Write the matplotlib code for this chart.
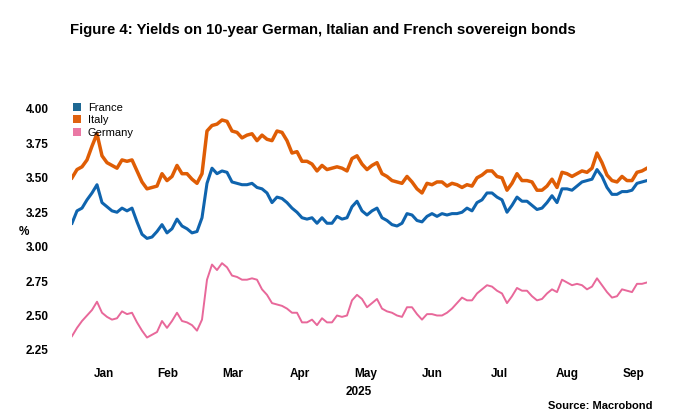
import matplotlib
matplotlib.use("Agg")
import matplotlib.pyplot as plt
from matplotlib.patches import Patch
import pandas as pd

plt.rcParams['font.family'] = ['Liberation Sans', 'DejaVu Sans']

# values, roughly every 2.3 days, 2 Jan - 22 Sep 2025
france = [3.17, 3.26, 3.28, 3.34, 3.39, 3.45, 3.32, 3.29, 3.26, 3.25, 3.28, 3.26,
          3.28, 3.18, 3.09, 3.06, 3.07, 3.11, 3.16, 3.10, 3.13, 3.20, 3.15,
          3.13, 3.10, 3.11, 3.21, 3.46, 3.57, 3.53, 3.55, 3.54, 3.47, 3.46, 3.45,
          3.45, 3.46, 3.43, 3.42, 3.39, 3.32, 3.36, 3.35, 3.32, 3.28, 3.25,
          3.21, 3.20, 3.21, 3.17, 3.21, 3.17, 3.17, 3.22, 3.20, 3.21, 3.29, 3.33,
          3.26, 3.23, 3.26, 3.28, 3.21, 3.19, 3.16, 3.15, 3.17, 3.24, 3.23,
          3.19, 3.18, 3.22, 3.24, 3.22, 3.24, 3.23, 3.24, 3.24, 3.25, 3.28, 3.26,
          3.32, 3.34, 3.39, 3.39, 3.36, 3.34, 3.25, 3.30, 3.36, 3.33, 3.33,
          3.30, 3.27, 3.28, 3.32, 3.37, 3.32, 3.42, 3.42, 3.41, 3.44, 3.47, 3.48,
          3.49, 3.56, 3.51, 3.43, 3.38, 3.38, 3.40, 3.40, 3.41, 3.46, 3.47, 3.48]

italy = [3.50, 3.56, 3.58, 3.63, 3.73, 3.82, 3.66, 3.61, 3.59, 3.57, 3.63, 3.62,
         3.63, 3.55, 3.47, 3.42, 3.43, 3.44, 3.53, 3.48, 3.51, 3.59, 3.53,
         3.53, 3.49, 3.46, 3.53, 3.84, 3.88, 3.89, 3.92, 3.91, 3.84, 3.83, 3.79,
         3.81, 3.82, 3.77, 3.81, 3.78, 3.77, 3.84, 3.83, 3.77, 3.68, 3.69,
         3.62, 3.62, 3.60, 3.55, 3.59, 3.56, 3.57, 3.58, 3.57, 3.55, 3.64, 3.66,
         3.60, 3.56, 3.59, 3.61, 3.53, 3.51, 3.48, 3.47, 3.46, 3.51, 3.47,
         3.42, 3.39, 3.46, 3.45, 3.47, 3.47, 3.44, 3.46, 3.45, 3.43, 3.45, 3.44,
         3.50, 3.52, 3.55, 3.55, 3.51, 3.50, 3.41, 3.46, 3.53, 3.48, 3.48,
         3.47, 3.41, 3.41, 3.44, 3.49, 3.43, 3.54, 3.53, 3.51, 3.53, 3.55, 3.54,
         3.57, 3.68, 3.61, 3.52, 3.48, 3.47, 3.51, 3.48, 3.48, 3.54, 3.55, 3.57]

germany = [2.35, 2.41, 2.46, 2.50, 2.54, 2.60, 2.52, 2.49, 2.47, 2.48, 2.53, 2.51,
           2.52, 2.45, 2.39, 2.34, 2.36, 2.38, 2.46, 2.41, 2.46, 2.52, 2.46,
           2.45, 2.43, 2.39, 2.47, 2.76, 2.87, 2.83, 2.88, 2.85, 2.79, 2.78, 2.76,
           2.76, 2.77, 2.76, 2.69, 2.65, 2.59, 2.58, 2.57, 2.55, 2.52, 2.52,
           2.45, 2.45, 2.47, 2.43, 2.48, 2.45, 2.45, 2.50, 2.49, 2.50, 2.61, 2.65,
           2.62, 2.56, 2.59, 2.62, 2.55, 2.53, 2.52, 2.50, 2.49, 2.56, 2.56,
           2.51, 2.47, 2.51, 2.51, 2.50, 2.50, 2.52, 2.55, 2.59, 2.63, 2.61, 2.61,
           2.66, 2.69, 2.72, 2.71, 2.68, 2.66, 2.59, 2.64, 2.70, 2.68, 2.68,
           2.64, 2.61, 2.62, 2.66, 2.69, 2.67, 2.76, 2.74, 2.72, 2.73, 2.72, 2.69,
           2.71, 2.77, 2.72, 2.67, 2.63, 2.64, 2.69, 2.68, 2.67, 2.73, 2.73, 2.74]

dates = pd.date_range("2025-01-02", "2025-09-22", periods=len(france))
months = ["Jan", "Feb", "Mar", "Apr", "May", "Jun", "Jul", "Aug", "Sep"]
yticks = [2.25, 2.50, 2.75, 3.00, 3.25, 3.50, 3.75, 4.00]

colors = {"France": "#0f64ae", "Italy": "#df5d05", "Germany": "#e8689a"}
legend_colors = {"France": "#1e6893", "Italy": "#df6210", "Germany": "#ea78a4"}

fig = plt.figure(figsize=(7, 4.12), dpi=100)
ax = fig.add_axes([72 / 700, 1 - 356.8 / 412, 575 / 700, 254.7 / 412])

ax.plot(dates, france, color=colors["France"], lw=2.2, solid_joinstyle="round")
ax.plot(dates, italy, color=colors["Italy"], lw=2.5, solid_joinstyle="round")
ax.plot(dates, germany, color=colors["Germany"], lw=1.4, solid_joinstyle="round")

ax.set_xlim(dates[0], dates[-1])
ax.set_ylim(2.2, 4.05)

# month labels sit in the middle of each month
mid = []
for i in range(len(months)):
    start = pd.Timestamp(2025, i + 1, 1)
    end = start + pd.offsets.MonthBegin(1)
    mid.append(start + (end - start) / 2)
ax.set_xticks(mid)
ax.set_xticklabels(months, fontsize=8.5, fontweight="bold")
ax.set_yticks(yticks)
ax.set_yticklabels([f"{v:.2f}" for v in yticks], fontsize=8.5, fontweight="bold")
ax.tick_params(axis="both", length=0)
ax.tick_params(axis="x", pad=8)
ax.tick_params(axis="y", pad=17)
for s in ax.spines.values():
    s.set_visible(False)

fig.text(24 / 700, 1 - 232 / 412, "%", fontsize=8.5, fontweight="bold",
         ha="center", va="center")
fig.text(359 / 700, 1 - 392 / 412, "2025", fontsize=8.5, fontweight="bold",
         ha="center", va="center")
fig.text(653 / 700, 1 - 406 / 412, "Source: Macrobond", fontsize=8,
         fontweight="bold", ha="right", va="center")
fig.text(70 / 700, 1 - 30 / 412,
         "Figure 4: Yields on 10-year German, Italian and French sovereign bonds",
         fontsize=10.7, fontweight="bold", ha="left", va="center")

handles = [Patch(facecolor=legend_colors[k], label=k) for k in ["France", "Italy", "Germany"]]
ax.legend(handles=handles, loc="upper left", bbox_to_anchor=(-0.006, 1.015),
          frameon=False, fontsize=8, handlelength=0.75, handleheight=0.75,
          handletextpad=0.6, labelspacing=0.22, borderaxespad=0)

fig.savefig("out.png", dpi=100, facecolor="white")
